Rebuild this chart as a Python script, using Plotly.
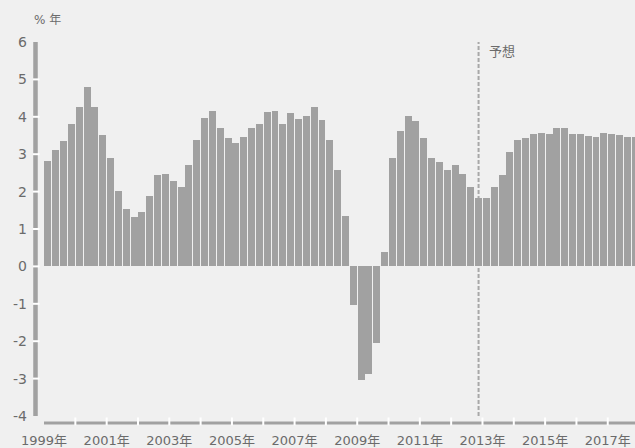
import plotly.graph_objects as go

# ---- data ----
years = list(range(1999, 2018))
quarters = [1, 2, 3, 4]
growth = [
    2.81, 3.10, 3.36, 3.81,   # 1999
    4.26, 4.79, 4.26, 3.52,   # 2000
    2.89, 2.02, 1.54, 1.33,   # 2001
    1.46, 1.89, 2.44, 2.47,   # 2002
    2.28, 2.12, 2.70, 3.39,   # 2003
    3.97, 4.16, 3.71, 3.42,   # 2004
    3.31, 3.47, 3.71, 3.81,   # 2005
    4.13, 4.16, 3.81, 4.10,   # 2006
    3.94, 4.02, 4.26, 3.92,   # 2007
    3.39, 2.57, 1.36, -1.02,  # 2008
    -3.05, -2.89, -2.04, 0.38,  # 2009
    2.89, 3.63, 4.02, 3.89,   # 2010
    3.42, 2.89, 2.78, 2.57,   # 2011
    2.70, 2.47, 2.12, 1.83,   # 2012
    1.83, 2.12, 2.44, 3.07,   # 2013
    3.39, 3.44, 3.55, 3.58,   # 2014
    3.55, 3.71, 3.71, 3.55,   # 2015
    3.55, 3.50, 3.47, 3.58,   # 2016
    3.55, 3.52, 3.47, 3.47,   # 2017
]
forecast_year, forecast_quarter = 2012, 4
y_ticks = [-4, -3, -2, -1, 0, 1, 2, 3, 4, 5, 6]
y_tick_labels = ["-4", "-3", "-2", "-1", "0", "1", "2", "3", "4", "5", "6"]
x_tick_labels = [f"{y}年" if y % 2 == 1 else "" for y in years]
unit_label = "% 年"
forecast_label = "予想"

# ---- style ----
BG = "#f0f0f0"
BAR = "#a1a1a1"
TXT = "#6b6b6b"
FONT = "DejaVu Sans, Noto Sans CJK JP, sans-serif"
W, H = 635, 448
ML, MR, MT, MB = 44, 0, 42, 27
PW, PH = W - ML - MR, H - MT - MB

def q_center(y, q):
    return y + (q - 0.5) / 4

xs = [q_center(y, q) for y in years for q in quarters]

fig = go.Figure()
fig.add_trace(go.Bar(x=xs, y=growth, width=0.222, marker=dict(color=BAR, line=dict(width=0)),
                     hoverinfo="skip"))

def px2paper_x(px):
    return (px - ML) / PW

def px2paper_y(px):
    return (H - MB - px) / PH

shapes = []
# y axis line
shapes.append(dict(type="line", xref="paper", yref="y", x0=px2paper_x(35.5), x1=px2paper_x(35.5),
                   y0=y_ticks[0], y1=y_ticks[-1], line=dict(color=BAR, width=4.5), layer="above"))
for t in y_ticks[1:-1]:
    shapes.append(dict(type="line", xref="paper", yref="y", x0=px2paper_x(33), x1=px2paper_x(39.5),
                       y0=t, y1=t, line=dict(color="white", width=2), layer="above"))
# x axis line
shapes.append(dict(type="line", xref="paper", yref="paper", x0=0, x1=1.01,
                   y0=px2paper_y(428), y1=px2paper_y(428), line=dict(color=BAR, width=3), layer="above"))
for yv in years[1:]:
    shapes.append(dict(type="line", xref="x", yref="paper", x0=yv, x1=yv,
                       y0=px2paper_y(430.5), y1=px2paper_y(422.5), line=dict(color="white", width=2),
                       layer="above"))
# forecast divider
fx = q_center(forecast_year, forecast_quarter)
shapes.append(dict(type="line", xref="x", yref="y", x0=fx, x1=fx, y0=y_ticks[0], y1=y_ticks[-1],
                   line=dict(color="#a8a8a8", width=2, dash="4px,2px"), layer="below"))

fig.update_layout(
    width=W, height=H,
    margin=dict(l=ML, r=MR, t=MT, b=MB, pad=0),
    paper_bgcolor=BG, plot_bgcolor=BG,
    showlegend=False,
    bargap=0,
    font=dict(family=FONT, color=TXT, size=13),
    shapes=shapes,
    xaxis=dict(range=[1998.999, 2017.87], tickvals=years, ticktext=x_tick_labels,
               showgrid=False, zeroline=False, showline=False, ticks="",
               ticklabelstandoff=15, tickfont=dict(size=13, color=TXT)),
    yaxis=dict(range=[y_ticks[0], y_ticks[-1]], tickvals=y_ticks, ticktext=y_tick_labels,
               showgrid=False, zeroline=False, showline=False, ticks="",
               ticklabelstandoff=16, tickfont=dict(size=14, color=TXT)),
    annotations=[
        dict(text=unit_label, xref="paper", yref="paper", x=px2paper_x(32), y=px2paper_y(20),
             xanchor="left", yanchor="middle", showarrow=False, font=dict(size=12, color=TXT)),
        dict(text=forecast_label, xref="x", yref="y", x=fx, y=y_ticks[-1], xshift=8,
             xanchor="left", yanchor="top", showarrow=False, font=dict(size=13, color=TXT)),
    ],
)

fig.write_html("out.html", config={"displayModeBar": False},
               post_script="document.body.style.margin='0';document.body.style.overflow='hidden';")
